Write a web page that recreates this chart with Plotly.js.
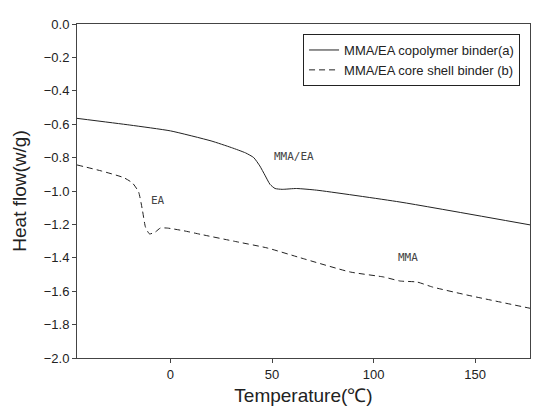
<!DOCTYPE html>
<html>
<head>
<meta charset="utf-8">
<script src="https://cdn.plot.ly/plotly-3.0.1.min.js"></script>
<style>html,body{margin:0;padding:0;background:#fff;}#chart{width:534px;height:412px;}</style>
</head>
<body>
<div id="chart"></div>
<script>
// Series (a): MMA/EA copolymer binder
var tempA = [-46, -20, 0, 20, 30, 37, 41, 44, 46.5, 49, 51.5, 55, 62, 72, 113, 178];
var heatA = [-0.565, -0.605, -0.64, -0.70, -0.74, -0.772, -0.80, -0.85, -0.905, -0.96, -0.985, -0.99, -0.985, -0.995, -1.066, -1.205];
// Series (b): MMA/EA core shell binder
var tempB = [-46, -34, -23, -18.7, -15.7, -13.8, -12.3, -10.3, -7.4, -5, -1.5, 6.5, 15, 31, 47.6, 64, 88.5, 105, 113, 121.4, 129, 146, 178.5];
var heatB = [-0.844, -0.88, -0.92, -0.952, -1.005, -1.114, -1.216, -1.257, -1.245, -1.222, -1.222, -1.238, -1.26, -1.30, -1.341, -1.40, -1.485, -1.515, -1.539, -1.545, -1.575, -1.623, -1.706];
var seriesNames = ["MMA/EA copolymer binder(a)", "MMA/EA core shell binder (b)"];
var yTicks = [0, -0.2, -0.4, -0.6, -0.8, -1.0, -1.2, -1.4, -1.6, -1.8, -2.0];
var xTicks = [0, 50, 100, 150];
var labelText = ["MMA/EA", "EA", "MMA"];
var labelT = [61, -5.9, 117];
var labelV = [-0.796, -1.054, -1.40];

var traces = [
  {x: tempA, y: heatA, name: seriesNames[0], type: 'scatter', mode: 'lines',
   line: {color: '#222', width: 1, shape: 'spline', smoothing: 0.5}},
  {x: tempB, y: heatB, name: seriesNames[1], type: 'scatter', mode: 'lines',
   line: {color: '#222', width: 1, dash: '6px,4px', shape: 'spline', smoothing: 0.5}}
];

var annotations = labelText.map(function(t, i){
  return {x: labelT[i], y: labelV[i], text: t, showarrow: false,
    font: {family: 'DejaVu Sans Mono, monospace', size: 11, color: '#444'}};
});

var layout = {
  width: 534, height: 412,
  margin: {l: 77, r: 4, t: 24, b: 54},
  paper_bgcolor: '#fff', plot_bgcolor: '#fff',
  showlegend: true,
  legend: {x: 0.499, y: 0.97, xanchor: 'left', yanchor: 'top',
    bordercolor: '#222', borderwidth: 1, bgcolor: '#fff',
    font: {family: 'Arial, Liberation Sans, sans-serif', size: 13, color: '#222'},
    tracegroupgap: 0, itemwidth: 30},
  xaxis: {range: [-46, 177], tickvals: xTicks, ticks: 'outside', ticklen: 4,
    tickcolor: '#444', showline: true, linecolor: '#444', linewidth: 1, mirror: true,
    showgrid: false, zeroline: false,
    tickfont: {family: 'Arial, Liberation Sans, sans-serif', size: 13, color: '#222'},
    title: {text: 'Temperature(\u2103)', standoff: 8,
      font: {family: 'Arial, Liberation Sans, sans-serif', size: 19, color: '#222'}}},
  yaxis: {range: [-2.0, 0.0], tickvals: yTicks, tickformat: '.1f', ticks: 'outside', ticklen: 4,
    tickcolor: '#444', showline: true, linecolor: '#444', linewidth: 1, mirror: true,
    showgrid: false, zeroline: false,
    tickfont: {family: 'Arial, Liberation Sans, sans-serif', size: 13, color: '#222'},
    title: {text: 'Heat flow(w/g)', standoff: 12,
      font: {family: 'Arial, Liberation Sans, sans-serif', size: 19, color: '#222'}}},
  annotations: annotations
};

Plotly.newPlot('chart', traces, layout, {displayModeBar: false, staticPlot: true});
</script>
</body>
</html>
